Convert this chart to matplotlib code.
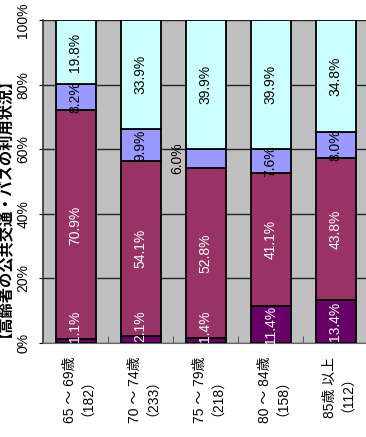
import matplotlib
matplotlib.use("Agg")
import matplotlib.pyplot as plt
import numpy as np

plt.rcParams['font.family'] = ['Liberation Sans', 'Noto Sans CJK JP', 'DejaVu Sans']

categories = ["65 ～ 69歳\n（182）", "70 ～ 74歳\n（233）", "75 ～ 79歳\n（218）", "80 ～ 84歳\n（158）", "85歳 以上\n（112）"]
s1 = [1.1, 2.1, 1.4, 11.4, 13.4]
s2 = [70.9, 54.1, 52.8, 41.1, 43.8]
s3 = [8.2, 9.9, 6.0, 7.6, 8.0]
s4 = [19.8, 33.9, 39.9, 39.9, 34.8]
series = [s1, s2, s3, s4]
colors = ["#660066", "#993366", "#9999FF", "#CCFFFF"]
text_colors = ["white", "white", "black", "black"]
yticks = [0, 20, 40, 60, 80, 100]
ytick_labels = ["0%", "20%", "40%", "60%", "80%", "100%"]
title = "【高齢者の公共交通・バスの利用状況】"

W, H = 366, 437
fig = plt.figure(figsize=(W / 100, H / 100), dpi=100)
ax = fig.add_axes([43 / W, 94 / H, 325 / W, 323 / H])
ax.set_facecolor("#C0C0C0")

x = np.arange(len(categories))
width = 40 / 65
bottom = np.zeros(len(categories))
for vals, col, tcol in zip(series, colors, text_colors):
    vals = np.array(vals)
    ax.bar(x, vals, width, bottom=bottom, color=col, edgecolor="black", linewidth=1.3, zorder=3)
    for i, v in enumerate(vals):
        lbl = f"{v:.1f}%"
        if v < 3:
            ax.text(x[i], bottom[i] + 0.4, lbl, rotation=90, ha="center", va="bottom",
                    color=tcol, fontsize=10, zorder=4)
        elif col == "#9999FF" and v <= 6.0:
            ax.text(x[i] - 0.43, bottom[i] + v / 2, lbl, rotation=90, ha="center", va="center",
                    color="black", fontsize=10, zorder=4)
        else:
            ax.text(x[i], bottom[i] + v / 2, lbl, rotation=90, ha="center", va="center",
                    color=tcol, fontsize=10, zorder=4)
    bottom = bottom + vals

ax.set_xlim(-0.5, len(categories) - 0.5)
ax.set_ylim(0, 100)
ax.set_yticks(yticks)
ax.set_yticklabels(ytick_labels, rotation=90, va="center", fontsize=10)
ax.yaxis.grid(True, color="#222222", linewidth=1, zorder=1)
ax.set_axisbelow(True)
ax.tick_params(axis="y", length=3, pad=6, direction="out", color="black")

ax.set_xticks(x)
ax.set_xticklabels(categories, rotation=90, fontsize=10, ha="center", va="top",
                   multialignment="center", linespacing=0.72)
ax.tick_params(axis="x", length=0, pad=10)
ax.set_xticks(np.arange(len(categories) - 1) + 0.5, minor=True)
ax.tick_params(axis="x", which="minor", length=5, direction="in", color="#444444")

for side in ["top", "right"]:
    ax.spines[side].set_visible(False)
ax.spines["left"].set_color("#333333")
ax.spines["left"].set_linewidth(1.2)
ax.spines["bottom"].set_color("#666666")

fig.text(-3.5 / W, 1 - 200 / H, title, rotation=90, ha="center", va="center",
         fontsize=11, fontweight="bold", family=['Noto Sans CJK JP', 'DejaVu Sans'])

fig.savefig("out.png", dpi=100, facecolor="white")
